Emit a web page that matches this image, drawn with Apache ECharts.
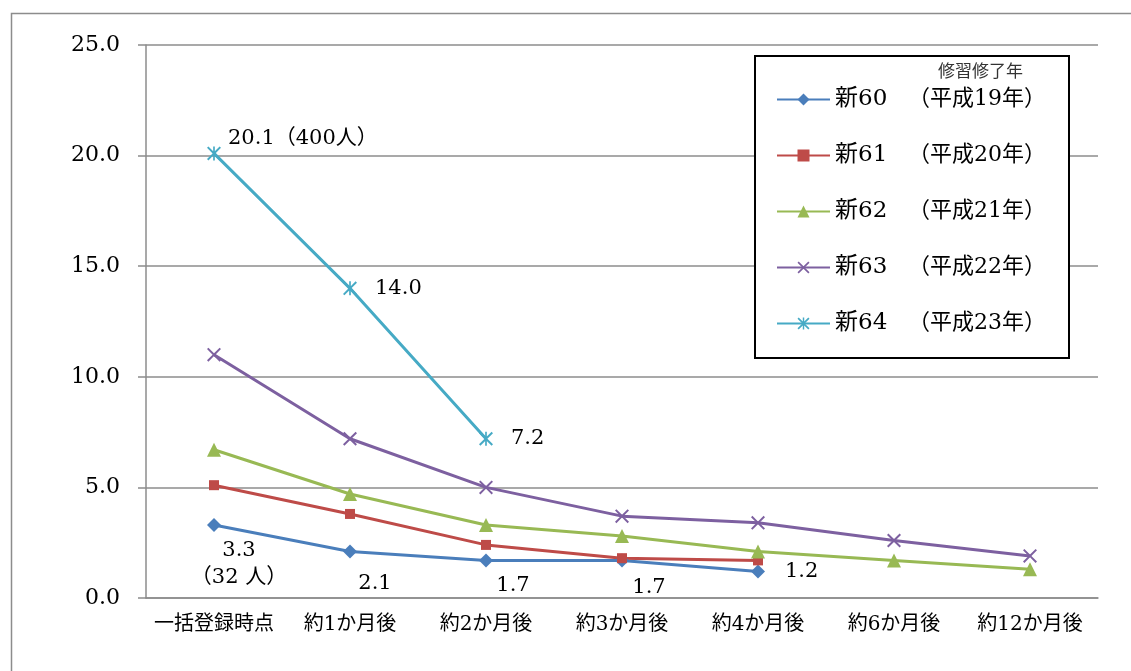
<!DOCTYPE html>
<html>
<head>
<meta charset="utf-8">
<script src="https://cdn.jsdelivr.net/npm/echarts@6/dist/echarts.min.js"></script>
<style>
  html, body { margin: 0; padding: 0; background: #fff; }
  #container { width: 1131px; height: 671px; }
</style>
</head>
<body>
<div id="container"></div>
<script>
// カテゴリ
var categories = ['一括登録時点', '約1か月後', '約2か月後', '約3か月後', '約4か月後', '約6か月後', '約12か月後'];

// 各期の値
var names = ['新60', '新61', '新62', '新63', '新64'];
var years = ['（平成19年）', '（平成20年）', '（平成21年）', '（平成22年）', '（平成23年）'];
var shin60 = [3.3, 2.1, 1.7, 1.7, 1.2];
var shin61 = [5.1, 3.8, 2.4, 1.8, 1.7];
var shin62 = [6.7, 4.7, 3.3, 2.8, 2.1, 1.7, 1.3];
var shin63 = [11.0, 7.2, 5.0, 3.7, 3.4, 2.6, 1.9];
var shin64 = [20.1, 14.0, 7.2];

// 注記
var notes60 = ['\n（32 人）', '', '', '', ''];
var notes64 = ['（400人）', '', ''];

var colors = ['#4a7ebb', '#be4b48', '#98b954', '#7d60a0', '#46aac5'];

var xSymbol = 'path://M0,1L1,0L5,4L9,0L10,1L6,5L10,9L9,10L5,6L1,10L0,9L4,5Z';
var starSymbol = 'path://M0,1L1,0L5,4L9,0L10,1L6,5L10,9L9,10L5,6L1,10L0,9L4,5Z M4.4,0L5.6,0L5.6,10L4.4,10Z';

var serif = '"DejaVu Serif", "Noto Sans CJK JP", serif';

var dom = document.getElementById('container');
var myChart = echarts.init(dom);

function labelOf(notes) {
    return {
        show: true,
        color: '#000',
        fontFamily: serif,
        fontSize: 21,
        lineHeight: 27,
        formatter: function (p) {
            return p.value.toFixed(1) + notes[p.dataIndex];
        }
    };
}

// 個別ラベル位置
var data60 = shin60.map(function (v, i) {
    var lb = [
        { position: 'bottom', offset: [25, 0], align: 'center' },
        { position: 'bottom', offset: [25, 6] },
        { position: 'bottom', offset: [27, 0] },
        { position: 'bottom', offset: [27, 2] },
        { position: 'right', distance: 20 }
    ][i];
    return { value: v, label: lb };
});
var data64 = shin64.map(function (v, i) {
    var lb = [
        { position: 'right', distance: 7, offset: [0, -15] },
        { position: 'right', distance: 18 },
        { position: 'right', distance: 18 }
    ][i];
    return { value: v, label: lb };
});

function line(name, data, color, symbol, size, label) {
    var s = {
        name: name,
        type: 'line',
        data: data,
        symbol: symbol,
        symbolSize: size,
        showAllSymbol: true,
        lineStyle: { color: color, width: 3 },
        itemStyle: { color: color },
        emphasis: { disabled: true }
    };
    if (label) s.label = label;
    return s;
}

var option = {
    animation: false,
    color: colors,
    grid: { left: 146, right: 33, top: 45, bottom: 73 },
    graphic: [
        {
            type: 'rect', left: 9, top: 11, silent: true,
            shape: { x: 0, y: 0, width: 1200, height: 700 },
            style: { fill: 'none', stroke: '#8c8c8c', lineWidth: 1.5 }
        },
        {
            type: 'rect', left: 754, top: 55, silent: true, z: 10,
            shape: { x: 0, y: 0, width: 314, height: 302 },
            style: { fill: '#fff', stroke: '#000', lineWidth: 2 }
        },
        {
            type: 'text', left: 938, top: 62, z: 11, silent: true,
            style: { text: '修習修了年', fill: '#333', font: '17px "Noto Sans CJK JP"' }
        }
    ],
    legend: {
        orient: 'vertical',
        left: 776,
        top: 88,
        padding: 0,
        z: 12,
        itemWidth: 53,
        itemHeight: 15,
        itemGap: 33,
        selectedMode: false,
        data: names,
        formatter: function (n) {
            return '{a|' + n + '}{b|' + years[names.indexOf(n)] + '}';
        },
        textStyle: {
            color: '#000',
            rich: {
                a: { fontFamily: serif, fontSize: 23, width: 73, lineHeight: 26, color: '#000' },
                b: { fontFamily: serif, fontSize: 22, lineHeight: 26, color: '#000' }
            }
        }
    },
    xAxis: {
        type: 'category',
        data: categories,
        boundaryGap: true,
        axisLine: { lineStyle: { color: '#8c8c8c', width: 1.5 } },
        axisTick: { length: 7, lineStyle: { color: '#8c8c8c', width: 1.5 } },
        axisLabel: {
            margin: 17,
            color: '#000',
            fontSize: 20,
            fontFamily: serif,
            interval: 0
        }
    },
    yAxis: {
        type: 'value',
        min: 0,
        max: 25,
        interval: 5,
        axisLine: { show: true, lineStyle: { color: '#8c8c8c', width: 1.5 } },
        axisTick: { show: true, length: 8, lineStyle: { color: '#8c8c8c', width: 1.5 } },
        splitLine: { lineStyle: { color: '#8c8c8c', width: 1.5 } },
        axisLabel: {
            margin: 26,
            color: '#000',
            fontSize: 22,
            fontFamily: serif,
            formatter: function (v) { return v.toFixed(1); }
        }
    },
    series: [
        line('新60', data60, colors[0], 'diamond', 14, labelOf(notes60)),
        line('新61', shin61, colors[1], 'rect', 10),
        line('新62', shin62, colors[2], 'triangle', 14),
        line('新63', shin63, colors[3], xSymbol, 14),
        line('新64', data64, colors[4], starSymbol, 14, labelOf(notes64))
    ]
};

if (option && typeof option === "object") {
    myChart.setOption(option, true);
}
</script>
</body>
</html>
